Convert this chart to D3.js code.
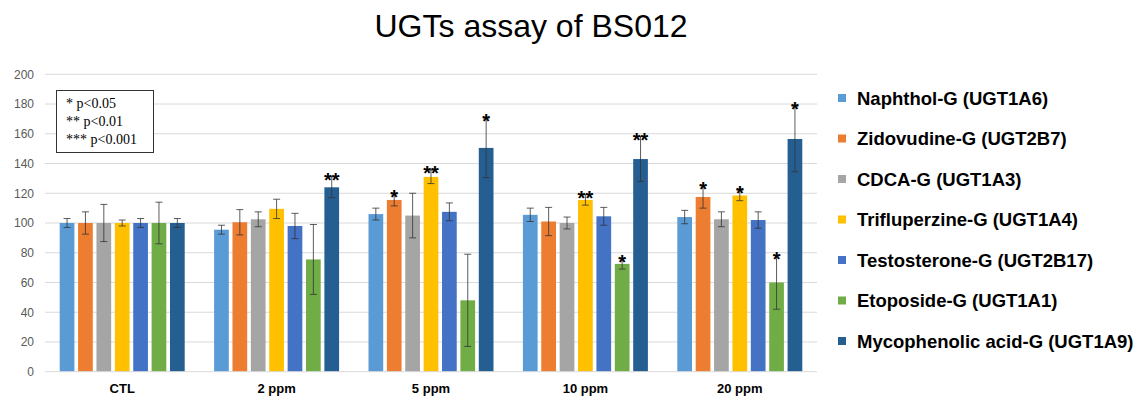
<!DOCTYPE html>
<html><head><meta charset="utf-8">
<script src="https://cdn.jsdelivr.net/npm/d3@7/dist/d3.min.js"></script>
<style>body{margin:0;background:#fff;} svg{display:block;}</style>
</head><body>
<script>
const categories = ["CTL", "2 ppm", "5 ppm", "10 ppm", "20 ppm"];
const seriesNames = ["Naphthol-G (UGT1A6)", "Zidovudine-G (UGT2B7)", "CDCA-G (UGT1A3)", "Trifluperzine-G (UGT1A4)", "Testosterone-G (UGT2B17)", "Etoposide-G (UGT1A1)", "Mycophenolic acid-G (UGT1A9)"];
const colors = ["#5B9BD5", "#ED7D31", "#A5A5A5", "#FFC000", "#4472C4", "#70AD47", "#255E91"];
// values[series][category]
const naphthol = [100, 95.5, 106, 105.5, 104];
const zidovudine = [100, 100.5, 115.5, 101, 117.5];
const cdca = [100, 102.5, 105, 100, 102.5];
const trifluperzine = [100, 109.5, 131, 115.5, 118.5];
const testosterone = [100, 98, 107.5, 104.5, 102];
const etoposide = [100, 75.5, 48, 72.5, 60];
const mycophenolic = [100, 124, 150.5, 143, 156.5];
const naphtholErr = [3, 3, 4, 4.5, 4.5];
const zidovudineErr = [7.5, 8.5, 4, 9.5, 7.5];
const cdcaErr = [12.5, 5, 15, 4, 5];
const trifluperzineErr = [2, 6.5, 4.5, 3.5, 3.5];
const testosteroneErr = [3, 8.5, 6, 6, 5.5];
const etoposideErr = [14, 23.5, 31, 3.5, 18];
const mycophenolicErr = [3, 7, 20, 15, 22];
const naphtholSig = ["", "", "", "", ""];
const zidovudineSig = ["", "", "*", "", "*"];
const cdcaSig = ["", "", "", "", ""];
const trifluperzineSig = ["", "", "**", "**", "*"];
const testosteroneSig = ["", "", "", "", ""];
const etoposideSig = ["", "", "", "*", "*"];
const mycophenolicSig = ["", "**", "*", "**", "*"];
const yTicks = [0, 20, 40, 60, 80, 100, 120, 140, 160, 180, 200];
const sigLegend = ["* p<0.05", "** p<0.01", "*** p<0.001"];

const values = [naphthol, zidovudine, cdca, trifluperzine, testosterone, etoposide, mycophenolic];
const errs = [naphtholErr, zidovudineErr, cdcaErr, trifluperzineErr, testosteroneErr, etoposideErr, mycophenolicErr];
const sigs = [naphtholSig, zidovudineSig, cdcaSig, trifluperzineSig, testosteroneSig, etoposideSig, mycophenolicSig];

const W = 1143, H = 408;
const m = {left: 45, right: 326, top: 74.3, bottom: 36.3};
const svg = d3.select("body").append("svg").attr("width", W).attr("height", H);

const x0 = d3.scaleBand().domain(categories).range([m.left, W - m.right]).paddingInner(0).paddingOuter(0);
const x1 = d3.scaleBand().domain(d3.range(seriesNames.length)).range([0, x0.bandwidth()]).paddingInner(0.2).paddingOuter(0.8);
const y = d3.scaleLinear().domain([0, 200]).range([H - m.bottom, m.top]);

// gridlines
svg.append("g").selectAll("line").data(yTicks.slice(1)).join("line")
  .attr("x1", m.left).attr("x2", W - m.right)
  .attr("y1", d => y(d)).attr("y2", d => y(d))
  .attr("stroke", "#d9d9d9").attr("stroke-width", 1);

// y axis labels
const yAxis = d3.axisLeft(y).tickValues(yTicks).tickSize(0).tickPadding(0);
const ya = svg.append("g").attr("transform", `translate(${m.left - 11},0)`).call(yAxis);
ya.select(".domain").remove();
ya.selectAll("text").attr("font-family", "Arial, 'Liberation Sans', sans-serif").attr("font-size", 12).attr("fill", "#595959");

// bars
const groups = svg.append("g").selectAll("g").data(categories).join("g")
  .attr("transform", d => `translate(${x0(d)},0)`);
groups.each(function(cat, ci) {
  const g = d3.select(this);
  values.forEach((vals, si) => {
    const v = vals[ci], e = errs[si][ci];
    const bx = x1(si), bw = x1.bandwidth();
    g.append("rect").attr("x", bx).attr("y", y(v)).attr("width", bw).attr("height", y(0) - y(v)).attr("fill", colors[si]);
    const cx = bx + bw / 2;
    g.append("line").attr("x1", cx).attr("x2", cx).attr("y1", y(v - e)).attr("y2", y(v + e)).attr("stroke", "#333").attr("stroke-width", 0.8);
    [v - e, v + e].forEach(t => g.append("line").attr("x1", cx - 3.5).attr("x2", cx + 3.5).attr("y1", y(t)).attr("y2", y(t)).attr("stroke", "#333").attr("stroke-width", 0.8));
    const s = sigs[si][ci];
    if (s) {
      g.append("text").attr("x", cx).attr("y", y(v + e) + 10).attr("text-anchor", "middle")
        .attr("font-family", "Arial, 'Liberation Sans', sans-serif").attr("font-weight", "bold").attr("font-size", 20)
        .attr("fill", "#000").text(s);
    }
  });
});

// x axis line
svg.append("line").attr("x1", m.left).attr("x2", W - m.right).attr("y1", y(0)).attr("y2", y(0)).attr("stroke", "#d9d9d9");
const xAxis = d3.axisBottom(x0).tickSize(0).tickPadding(0);
const xa = svg.append("g").attr("transform", `translate(0,${y(0) + 21})`).call(xAxis);
xa.select(".domain").remove();
xa.selectAll("text").attr("font-family", "Arial, 'Liberation Sans', sans-serif").attr("font-weight", "bold").attr("font-size", 13).attr("fill", "#000").attr("dy", 0);

// title
svg.append("text").attr("x", 531).attr("y", 37).attr("text-anchor", "middle")
  .attr("font-family", "Arial, 'Liberation Sans', sans-serif").attr("font-size", 32).attr("fill", "#000").text("UGTs assay of BS012");

// significance box
svg.append("rect").attr("x", 56.5).attr("y", 90.5).attr("width", 97).attr("height", 62).attr("fill", "#fff").attr("stroke", "#333").attr("stroke-width", 1);
svg.append("g").selectAll("text").data(sigLegend).join("text")
  .attr("x", 66).attr("y", (d, i) => 108 + i * 18)
  .attr("font-family", "'Times New Roman', 'Liberation Serif', serif").attr("font-size", 14).attr("fill", "#000").text(d => d);

// legend
const lg = svg.append("g").selectAll("g").data(seriesNames).join("g")
  .attr("transform", (d, i) => `translate(838,${98 + i * 40.5})`);
lg.append("rect").attr("x", 0).attr("y", -4).attr("width", 8).attr("height", 8).attr("fill", (d, i) => colors[i]);
lg.append("text").attr("x", 19).attr("y", 6.5).attr("font-family", "Arial, 'Liberation Sans', sans-serif")
  .attr("font-weight", "bold").attr("font-size", 18.5).attr("fill", "#000").text(d => d);
</script>
</body></html>
